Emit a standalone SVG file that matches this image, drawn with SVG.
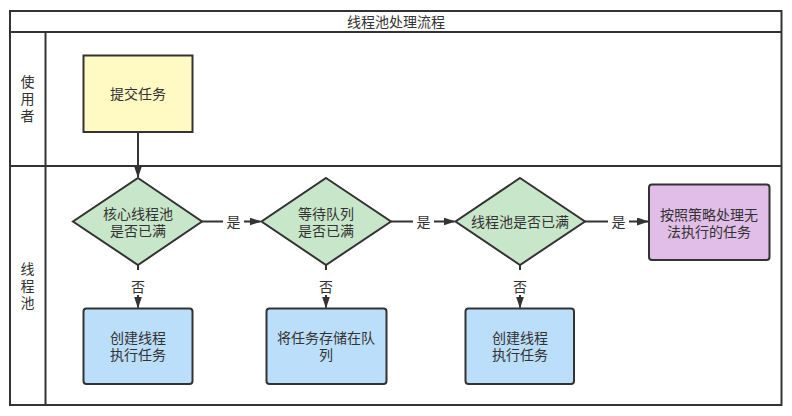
<svg xmlns="http://www.w3.org/2000/svg" width="792" height="416" viewBox="0 0 792 416">
<style>
text{font-family:"Liberation Sans","Noto Sans CJK SC",sans-serif;font-size:14px;fill:#333;text-anchor:middle;dominant-baseline:central}
.frame{fill:none;stroke:#333;stroke-width:2}
.node{stroke:#333;stroke-width:2}
.edge{fill:none;stroke:#333;stroke-width:2}
.lbl{fill:#fff}
</style>
<defs>
<marker id="arr" viewBox="0 0 12 8" refX="11" refY="4" markerWidth="6" markerHeight="4" orient="auto" markerUnits="strokeWidth">
<path d="M0,0 L12,4 L0,8 z" fill="#333"/>
</marker>
</defs>
<rect x="0" y="0" width="792" height="416" fill="#fff"/>
<g id="pool">
<rect class="frame" x="10" y="11" width="771.5" height="394" fill="#fff"/>
<line class="frame" x1="10" y1="32" x2="781.5" y2="32"/>
<line class="frame" x1="10" y1="166" x2="781.5" y2="166"/>
<line class="frame" x1="45.5" y1="32" x2="45.5" y2="405"/>
<text x="396" y="21.5">线程池处理流程</text>
</g>
<g id="lane-user">
<text><tspan x="27.5" y="82">使</tspan><tspan x="27.5" y="99">用</tspan><tspan x="27.5" y="116">者</tspan></text>
</g>
<g id="lane-pool">
<text><tspan x="27.5" y="269">线</tspan><tspan x="27.5" y="286">程</tspan><tspan x="27.5" y="303">池</tspan></text>
</g>
<g id="submit">
<rect class="node" x="83.5" y="55.5" width="109" height="76.5" fill="#fff9c4"/>
<text x="138" y="94">提交任务</text>
</g>
<g id="d1">
<polygon class="node" points="138,178 202,221.5 138,265 73,221.5" fill="#c8e6c9"/>
<text><tspan x="138" y="214">核心线程池</tspan><tspan x="138" y="231">是否已满</tspan></text>
</g>
<g id="d2">
<polygon class="node" points="326,178 391,221.5 326,265 261.5,221.5" fill="#c8e6c9"/>
<text><tspan x="326" y="214">等待队列</tspan><tspan x="326" y="231">是否已满</tspan></text>
</g>
<g id="d3">
<polygon class="node" points="520,178 585,221.5 520,265 455.5,221.5" fill="#c8e6c9"/>
<text x="520" y="222">线程池是否已满</text>
</g>
<g id="reject">
<rect class="node" x="649" y="184.5" width="120.5" height="75.5" rx="3" fill="#e1bee7"/>
<text><tspan x="709" y="214.5">按照策略处理无</tspan><tspan x="709" y="231.5">法执行的任务</tspan></text>
</g>
<g id="create1">
<rect class="node" x="83.5" y="308.5" width="109" height="75.5" rx="3" fill="#bbdefb"/>
<text><tspan x="138" y="338">创建线程</tspan><tspan x="138" y="355">执行任务</tspan></text>
</g>
<g id="queue">
<rect class="node" x="266.5" y="308.5" width="120" height="75.5" rx="3" fill="#bbdefb"/>
<text><tspan x="326" y="338">将任务存储在队</tspan><tspan x="326" y="355">列</tspan></text>
</g>
<g id="create3">
<rect class="node" x="465.5" y="308.5" width="108.5" height="75.5" rx="3" fill="#bbdefb"/>
<text><tspan x="520" y="338">创建线程</tspan><tspan x="520" y="355">执行任务</tspan></text>
</g>
<g id="connectors">
<path class="edge" d="M138,132 V177" marker-end="url(#arr)"/>
<path class="edge" d="M202,221.5 H260.5" marker-end="url(#arr)"/>
<path class="edge" d="M391,221.5 H454.5" marker-end="url(#arr)"/>
<path class="edge" d="M585,221.5 H648" marker-end="url(#arr)"/>
<path class="edge" d="M138,265 V307.5" marker-end="url(#arr)"/>
<path class="edge" d="M326,265 V307.5" marker-end="url(#arr)"/>
<path class="edge" d="M520,265 V307.5" marker-end="url(#arr)"/>
<rect class="lbl" x="223" y="213" width="21" height="17"/>
<text x="233.5" y="222">是</text>
<rect class="lbl" x="413" y="213" width="21" height="17"/>
<text x="423.5" y="222">是</text>
<rect class="lbl" x="608" y="213" width="21" height="17"/>
<text x="618.5" y="222">是</text>
<rect class="lbl" x="129" y="270" width="18" height="25"/>
<text x="138" y="287">否</text>
<rect class="lbl" x="317" y="270" width="18" height="25"/>
<text x="326" y="287">否</text>
<rect class="lbl" x="511" y="270" width="18" height="25"/>
<text x="520" y="287">否</text>
</g>
</svg>
